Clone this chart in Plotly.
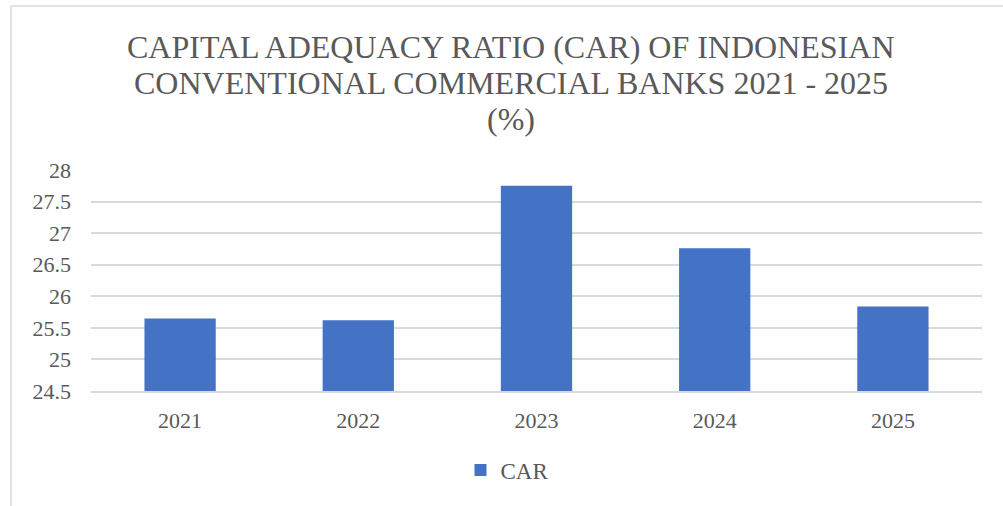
import plotly.graph_objects as go

years = ["2021", "2022", "2023", "2024", "2025"]
car_values = [25.65, 25.62, 27.75, 26.76, 25.84]
y_ticks = [24.5, 25, 25.5, 26, 26.5, 27, 27.5, 28]
y_tick_labels = ["24.5", "25", "25.5", "26", "26.5", "27", "27.5", "28"]
title_lines = [
    "CAPITAL ADEQUACY RATIO (CAR) OF INDONESIAN",
    "CONVENTIONAL COMMERCIAL BANKS 2021 - 2025",
    "(%)",
]
axis_floor = 24.5

W, H = 1003, 506
L, R, T, B = 91, 21, 170, 115
plot_w = W - L - R
plot_h = H - T - B

def px_x(p):
    return (p - L) / plot_w

def px_y(p):
    return (H - B - p) / plot_h

font_family = "Liberation Serif"
text_color = "#595959"

fig = go.Figure()
fig.add_trace(go.Bar(
    x=years,
    y=[v - axis_floor for v in car_values],
    base=axis_floor,
    name="CAR",
    marker=dict(color="#4472c4", line=dict(width=0)),
    width=0.4,
    hovertext=[str(v) for v in car_values],
))

fig.update_layout(
    width=W,
    height=H,
    margin=dict(l=L, r=R, t=T, b=B),
    paper_bgcolor="white",
    plot_bgcolor="white",
    font=dict(family=font_family, color=text_color, size=22),
    showlegend=True,
    legend=dict(
        orientation="h",
        x=px_x(507),
        xanchor="center",
        y=px_y(470),
        yanchor="middle",
        font=dict(family=font_family, size=23, color=text_color),
    ),
)

# three-line title, one annotation per line for tighter line spacing
title_centers = [47, 83, 119]
for line, cy in zip(title_lines, title_centers):
    fig.add_annotation(
        text=line,
        xref="paper", yref="paper",
        x=px_x(511), y=px_y(cy),
        xanchor="center", yanchor="middle",
        showarrow=False,
        font=dict(family=font_family, size=32, color=text_color),
    )

fig.update_xaxes(
    showgrid=False,
    showline=True,
    linecolor="#d9d9d9",
    linewidth=1.5,
    ticks="",
    ticklabelstandoff=9,
    tickfont=dict(family=font_family, size=22, color=text_color),
)
fig.update_yaxes(
    range=[24.5, 28],
    tickvals=y_ticks,
    ticktext=y_tick_labels,
    showgrid=True,
    gridcolor="#d9d9d9",
    gridwidth=1.5,
    zeroline=False,
    showline=False,
    ticks="",
    ticklabelstandoff=19,
    tickfont=dict(family=font_family, size=22, color=text_color),
)

# chart-area frame
fig.add_shape(
    type="rect",
    xref="paper", yref="paper",
    x0=px_x(11), x1=px_x(W + 5),
    y0=px_y(H + 5), y1=px_y(6),
    line=dict(color="#d9d9d9", width=1.5),
    fillcolor="rgba(0,0,0,0)",
    layer="below",
)

fig.write_html("out.html")
